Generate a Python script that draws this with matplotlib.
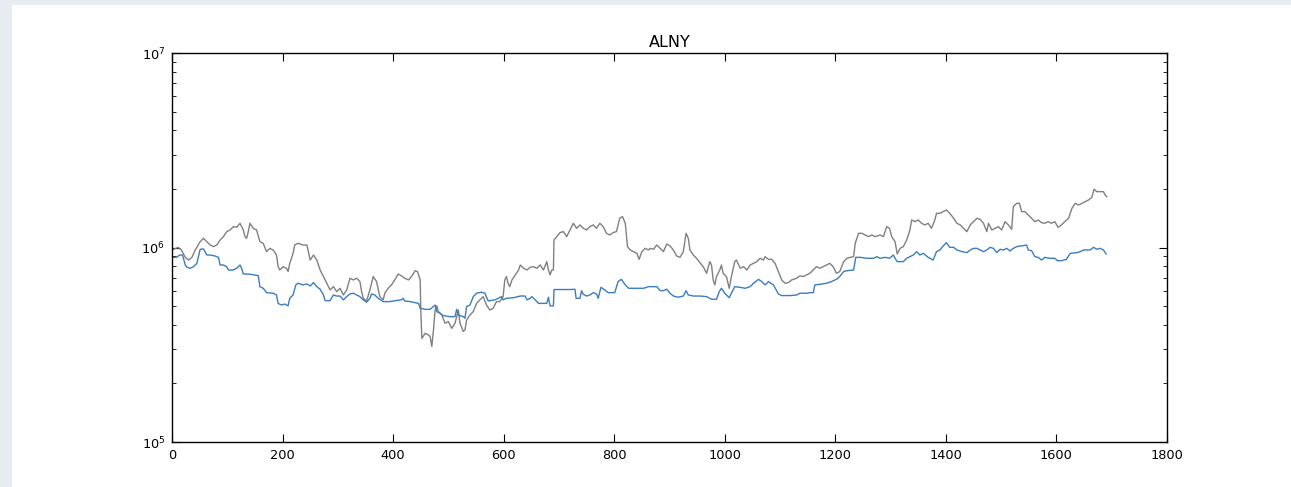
import numpy as np
import matplotlib
matplotlib.use("Agg")
import matplotlib.pyplot as plt
from matplotlib.patches import Rectangle

title = "ALNY"

# grey series: day index and value (thousands)
gray_x = [0, 11, 17, 24, 30, 36, 42, 51, 57, 63, 69, 75, 81, 87, 93, 99, 105, 111, 117, 123,
          129, 132, 135, 138, 141, 147, 153, 159, 165, 171, 177, 183, 189, 192, 195, 201, 207, 210, 213, 219,
          222, 228, 237, 244, 250, 256, 262, 268, 274, 280, 286,
          292, 298, 304, 310, 316, 322, 328, 334, 340, 343, 346, 352, 358, 364, 370, 376, 382, 385, 391, 397,
          403, 409, 415, 421, 428, 434, 440, 444, 449, 450, 452, 458, 464, 467, 470, 473, 476, 479, 482, 488,
          494, 500, 506, 512, 518, 521, 527, 530, 533, 539, 545, 551, 557, 563, 569,
          575, 581, 587, 593, 599, 602, 605, 608, 611, 615, 621, 627, 630, 636, 642, 648, 654, 660, 666, 672,
          678, 681, 684, 687, 690, 691, 696, 702, 708, 714, 720, 726, 732, 738, 744, 750, 756, 762, 768, 774,
          780, 786, 792, 798, 804, 810, 815, 820, 824, 829, 835, 841, 845, 850, 856, 862,
          865, 871, 877, 883, 889, 895, 901, 907, 913, 919, 925, 930, 934, 937, 943, 949, 955, 961, 967, 973,
          976, 979, 982, 985, 991, 994, 997, 1003, 1008, 1012, 1018, 1021, 1028, 1034, 1040, 1046, 1052, 1058, 1064, 1070,
          1073, 1079, 1085, 1091, 1097, 1103, 1109, 1115, 1121, 1130, 1136, 1142, 1148,
          1154, 1160, 1166, 1172, 1178, 1184, 1190, 1196, 1202, 1208, 1215, 1221, 1227, 1233, 1236, 1242, 1248, 1254, 1260, 1266,
          1272, 1281, 1287, 1293, 1298, 1302, 1308, 1312, 1317, 1323, 1329, 1335, 1338, 1344, 1350, 1356, 1362, 1368, 1374, 1380,
          1383, 1389, 1395, 1401, 1407, 1414, 1420, 1426, 1432, 1438,
          1444, 1450, 1456, 1462, 1468, 1474, 1477, 1483, 1489, 1495, 1501, 1507, 1513, 1519, 1522, 1528, 1533, 1537, 1543, 1549,
          1555, 1561, 1567, 1573, 1579, 1585, 1591, 1597, 1603, 1609, 1615, 1622, 1628, 1634, 1640, 1646, 1652, 1658, 1664, 1668,
          1673, 1679, 1685, 1688, 1691]
gray_k = [971, 1002, 971, 890, 862, 890, 971, 1072, 1115, 1072, 1030, 1010, 1030, 1093, 1137, 1207, 1231, 1280, 1270, 1332,
          1231, 1137, 1115, 1207, 1332, 1255, 1231, 1072, 1051, 952, 990, 971, 915, 797, 766, 797, 782, 752, 829, 933,
          1030, 1051, 1030, 1030, 862, 915, 862, 766, 709, 655, 605,
          629, 593, 617, 570, 605, 695, 681, 695, 668, 593, 548, 531, 605, 709, 668, 559, 538, 582, 617, 642,
          681, 731, 715, 695, 681, 715, 760, 752, 681, 477, 341, 362, 355, 348, 310, 377, 477, 501, 468, 450,
          408, 416, 384, 408, 477, 408, 370, 377, 424, 450, 468, 516, 538, 559, 506,
          477, 487, 527, 527, 559, 681, 709, 655, 629, 681, 723, 766, 813, 782, 766, 791, 797, 782, 813, 766,
          846, 766, 723, 766, 766, 1093, 1137, 1193, 1207, 1137, 1231, 1332, 1255, 1306, 1255, 1231, 1280, 1306, 1255, 1332,
          1280, 1183, 1160, 1193, 1207, 1413, 1441, 1332, 1010, 971, 952, 933, 869, 952, 990, 971,
          990, 979, 1030, 990, 952, 1042, 1018, 971, 904, 890, 952, 1183, 1115, 971, 915, 880, 836, 797, 737, 846,
          813, 681, 642, 709, 766, 813, 737, 709, 617, 709, 846, 862, 782, 797, 766, 813, 829, 846, 880, 862,
          897, 869, 869, 829, 752, 681, 655, 660, 681, 695, 715, 709, 723,
          737, 766, 797, 782, 797, 813, 829, 797, 737, 752, 846, 880, 890, 897, 1051, 1183, 1183, 1160, 1137, 1160,
          1137, 1160, 1137, 1280, 1255, 1137, 1072, 926, 990, 1010, 1093, 1231, 1385, 1358, 1385, 1332, 1306, 1332, 1255, 1385,
          1499, 1499, 1529, 1559, 1499, 1413, 1332, 1306, 1255, 1207,
          1306, 1358, 1413, 1396, 1332, 1207, 1332, 1231, 1255, 1280, 1231, 1358, 1306, 1241, 1622, 1687, 1687, 1529, 1529, 1470,
          1413, 1358, 1385, 1342, 1332, 1358, 1332, 1358, 1270, 1306, 1358, 1413, 1590, 1687, 1654, 1687, 1721, 1755, 1811, 1994,
          1937, 1937, 1937, 1862, 1825]

# blue series
blue_x = [0, 8, 14, 19, 24, 27, 33, 39, 45, 51, 57, 63, 69, 78, 84, 87, 93, 99, 102, 111,
          117, 123, 126, 129, 141, 156, 159, 165, 171, 183, 189, 192, 198, 204, 210, 213, 219, 224, 228, 237,
          244, 250, 256, 262, 268, 274, 277, 286,
          292, 298, 304, 310, 316, 322, 328, 334, 340, 346, 352, 358, 361, 367, 373, 382, 394, 406, 415, 418,
          421, 431, 440, 446, 449, 458, 467, 476, 479, 485, 491, 503, 512, 515, 518, 527, 530, 533, 539, 545,
          551, 560, 566, 572,
          575, 584, 590, 596, 599, 605, 618, 630, 639, 642, 648, 651, 657, 663, 672, 678, 681, 684, 690, 691,
          702, 720, 729, 731, 738, 741, 744, 750, 756, 762, 768, 771, 776, 783, 789, 801, 807, 813, 820, 826,
          841, 853, 862,
          865, 877, 883, 889, 895, 901, 907, 916, 925, 930, 934, 943, 955, 967, 976, 985, 990, 994, 1000, 1008,
          1012, 1018, 1028, 1037, 1046, 1052, 1061, 1067, 1073, 1079, 1088, 1097, 1103, 1118, 1130, 1136, 1148,
          1154, 1160, 1163, 1172, 1184, 1193, 1202, 1208, 1215, 1221, 1233, 1237, 1245, 1257, 1269, 1275, 1281, 1290, 1298, 1305,
          1308, 1312, 1323, 1329, 1335, 1341, 1347, 1353, 1359, 1368, 1377, 1383, 1389, 1395, 1401, 1407, 1414, 1420, 1429, 1438,
          1444, 1450, 1456, 1462, 1468, 1474, 1480, 1486, 1492, 1498, 1504, 1510, 1516, 1522, 1528, 1534, 1540, 1546, 1549, 1555,
          1561, 1567, 1573, 1579, 1588, 1597, 1602, 1609, 1618, 1625, 1637, 1643, 1649, 1661, 1667, 1673, 1679, 1685, 1690]
blue_k = [890, 890, 915, 915, 813, 791, 782, 797, 829, 979, 983, 915, 915, 904, 890, 813, 813, 797, 766, 766,
          782, 813, 782, 731, 729, 717, 629, 617, 586, 582, 570, 516, 506, 512, 501, 548, 570, 642, 655, 642,
          650, 634, 660, 629, 610, 570, 533, 533,
          570, 563, 563, 538, 559, 577, 582, 570, 559, 538, 523, 548, 577, 570, 548, 527, 527, 534, 538, 548,
          531, 527, 520, 516, 487, 481, 481, 506, 468, 459, 446, 441, 441, 481, 450, 441, 433, 497, 506, 559,
          582, 589, 582, 531,
          533, 538, 548, 559, 538, 548, 552, 563, 563, 538, 548, 559, 538, 516, 516, 516, 555, 501, 501, 608,
          608, 608, 610, 548, 548, 600, 575, 563, 570, 586, 577, 548, 624, 605, 586, 586, 668, 686, 642, 617,
          617, 617, 629,
          629, 629, 600, 600, 610, 582, 563, 555, 563, 600, 570, 563, 563, 559, 542, 542, 593, 617, 582, 552,
          582, 629, 624, 617, 629, 655, 686, 668, 642, 668, 642, 577, 566, 566, 570, 582, 582,
          586, 586, 642, 647, 655, 668, 686, 709, 752, 760, 766, 890, 890, 880, 880, 897, 880, 890, 880, 915,
          880, 846, 846, 880, 897, 915, 952, 915, 933, 890, 862, 952, 971, 1018, 1059, 1002, 1002, 971, 952, 941,
          971, 990, 990, 971, 952, 971, 1002, 990, 941, 979, 971, 990, 960, 990, 1010, 1018, 1022, 1030, 971, 963,
          897, 890, 862, 890, 880, 880, 855, 855, 869, 933, 941, 952, 971, 971, 1002, 979, 990, 971, 926]

fig = plt.figure(figsize=(12.91, 4.87), dpi=100, facecolor="#e8ecf2")
fig.patches.append(Rectangle((12 / 1291, 0), 1 - 12 / 1291, 1 - 5 / 487,
                             transform=fig.transFigure, facecolor="white",
                             edgecolor="none", zorder=-10))
ax = fig.add_axes([172 / 1291, 1 - 442 / 487, 995 / 1291, 389 / 487])

ax.plot(gray_x, np.array(gray_k) * 1000, color="#808080", lw=1.0)
ax.plot(blue_x, np.array(blue_k) * 1000, color="#3a7dc0", lw=1.0)

ax.set_yscale("log")
ax.set_xlim(0, 1800)
ax.set_ylim(1e5, 1e7)
ax.set_xticks(np.arange(0, 1801, 200))
ax.set_title(title, fontsize=11.5, pad=4)

ax.tick_params(which="both", direction="in", top=True, right=True, labelsize=9.3, pad=5)
ax.tick_params(which="major", length=5.5, width=0.8)
ax.tick_params(which="minor", length=3, width=0.6)
for s in ax.spines.values():
    s.set_linewidth(1.0)

fig.savefig("out.png", dpi=100, facecolor=fig.get_facecolor())
